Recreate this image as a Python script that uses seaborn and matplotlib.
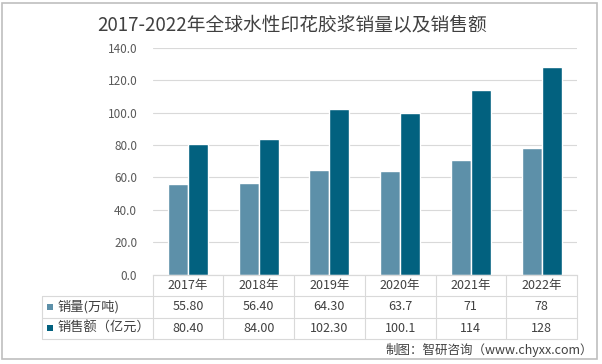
import pandas as pd
import seaborn as sns
import matplotlib.pyplot as plt
from matplotlib.patches import Rectangle
from matplotlib.lines import Line2D

years = ["2017年", "2018年", "2019年", "2020年", "2021年", "2022年"]
sales_volume = [55.80, 56.40, 64.30, 63.7, 71, 78]
sales_amount = [80.40, 84.00, 102.30, 100.1, 114, 128]
volume_labels = ["55.80", "56.40", "64.30", "63.7", "71", "78"]
amount_labels = ["80.40", "84.00", "102.30", "100.1", "114", "128"]
series_names = ["销量(万吨)", "销售额（亿元）"]
colors = ["#5D90A9", "#02617F"]

df = pd.DataFrame({
    "year": years * 2,
    "series": [series_names[0]] * len(years) + [series_names[1]] * len(years),
    "value": sales_volume + sales_amount,
})

sns.set_theme(style="white")
plt.rcParams["font.family"] = ["Noto Sans CJK SC", "DejaVu Sans"]

W, H = 602, 364
fig = plt.figure(figsize=(W / 100, H / 100), dpi=100)

def fx(px):
    return px / W

def fy(py):
    return 1 - py / H

ax_l, ax_r, ax_t, ax_b = 152.5, 577, 48, 274.5
ax = fig.add_axes([fx(ax_l), fy(ax_b), fx(ax_r - ax_l), fy(ax_t) - fy(ax_b)])

sns.barplot(data=df, x="year", y="value", hue="series", palette=colors,
            width=0.565, gap=0, saturation=1, legend=False, ax=ax)

ax.set_ylim(0, 140)
ax.set_yticks(range(0, 141, 20))
ax.set_yticklabels([f"{v:.1f}" for v in range(0, 141, 20)])
ax.set_xlim(-0.5, len(years) - 0.5)
ax.set_xticks([])
ax.set_xlabel("")
ax.set_ylabel("")
ax.yaxis.grid(True, color="#D9D9D9", linewidth=0.8)
ax.set_axisbelow(True)
for s in ["left", "right", "top"]:
    ax.spines[s].set_visible(False)
ax.spines["bottom"].set_color("#D9D9D9")
ax.spines["bottom"].set_linewidth(0.8)
ax.tick_params(axis="y", length=0, pad=11, labelsize=8.5, labelcolor="#595959")

# title
fig.text(fx(292), fy(25), "2017-2022年全球水性印花胶浆销量以及销售额",
         ha="center", va="center", fontsize=13.5, color="#404040")

# data table below the chart
line_c = "#D9D9D9"
lab_l = 42
row_y = [274.5, 296, 317.5, 339]
colw = (ax_r - ax_l) / len(years)

for i, y in enumerate(row_y):
    x0 = ax_l if i == 0 else lab_l
    fig.add_artist(Line2D([fx(x0), fx(ax_r)], [fy(y), fy(y)], color=line_c, lw=0.8))
for j in range(len(years) + 1):
    x = ax_l + j * colw
    fig.add_artist(Line2D([fx(x), fx(x)], [fy(row_y[0]), fy(row_y[-1])], color=line_c, lw=0.8))
fig.add_artist(Line2D([fx(lab_l), fx(lab_l)], [fy(row_y[1]), fy(row_y[-1])], color=line_c, lw=0.8))

txt_c = "#404040"
for j, yr in enumerate(years):
    cx = ax_l + (j + 0.5) * colw
    fig.text(fx(cx), fy((row_y[0] + row_y[1]) / 2), yr, ha="center", va="center",
             fontsize=9, color=txt_c)
    fig.text(fx(cx), fy((row_y[1] + row_y[2]) / 2), volume_labels[j], ha="center",
             va="center", fontsize=9, color=txt_c)
    fig.text(fx(cx), fy((row_y[2] + row_y[3]) / 2), amount_labels[j], ha="center",
             va="center", fontsize=9, color=txt_c)

for k, name in enumerate(series_names):
    cy = (row_y[k + 1] + row_y[k + 2]) / 2
    fig.add_artist(Rectangle((fx(47), fy(cy + 3)), fx(6), fy(cy - 3) - fy(cy + 3),
                             facecolor=colors[k], edgecolor="none"))
    fig.text(fx(57), fy(cy), name, ha="left", va="center", fontsize=9.5, color=txt_c)

# source
fig.text(fx(593), fy(350), "制图：智研咨询（www.chyxx.com）", ha="right", va="center",
         fontsize=9, color=txt_c)

# outer border
fig.add_artist(Rectangle((fx(2), fy(359)), fx(595), fy(3) - fy(359), fill=False,
                         edgecolor="#BFBFBF", lw=1.2))

fig.savefig("out.png", dpi=100)
